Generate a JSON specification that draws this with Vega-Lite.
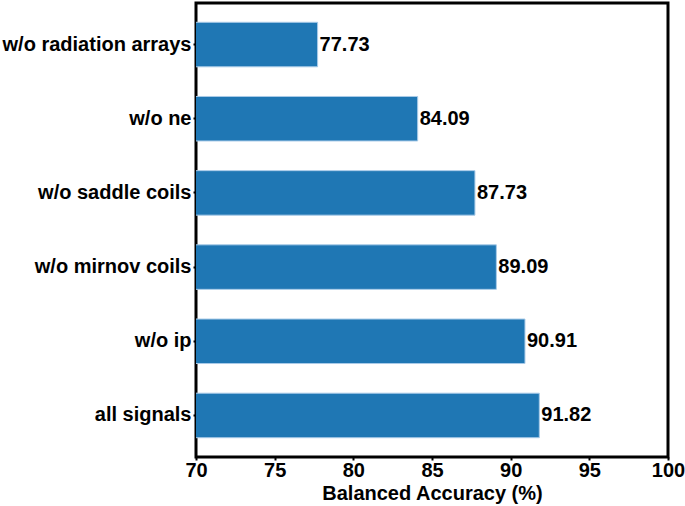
{
  "$schema": "https://vega.github.io/schema/vega-lite/v6.json",
  "autosize": {"type": "none"},
  "width": 472,
  "height": 454,
  "padding": {"left": 196, "top": 3, "right": 17, "bottom": 49},
  "background": "white",
  "config": {
    "view": {"stroke": "black", "strokeWidth": 3},
    "font": "Liberation Sans"
  },
  "data": {
    "values": [
      {"config": "w/o radiation arrays", "acc": 77.73},
      {"config": "w/o ne", "acc": 84.09},
      {"config": "w/o saddle coils", "acc": 87.73},
      {"config": "w/o mirnov coils", "acc": 89.09},
      {"config": "w/o ip", "acc": 90.91},
      {"config": "all signals", "acc": 91.82}
    ]
  },
  "encoding": {
    "y": {
      "field": "config",
      "type": "nominal",
      "sort": null,
      "scale": {"paddingInner": 0.4, "paddingOuter": 0.26},
      "axis": {
        "title": null,
        "labelFont": "Liberation Sans",
        "labelFontWeight": "bold",
        "labelFontSize": 20,
        "labelColor": "black",
        "labelPadding": 2,
        "tickColor": "black",
        "tickSize": 3,
        "tickWidth": 2,
        "domain": false,
        "labelLimit": 300
      }
    },
    "x": {
      "field": "acc",
      "type": "quantitative",
      "scale": {"domain": [70, 100], "nice": false, "zero": false},
      "axis": {
        "title": "Balanced Accuracy (%)",
        "titleFont": "Liberation Sans",
        "titleFontWeight": "bold",
        "titleFontSize": 20,
        "titleColor": "black",
        "titlePadding": 3,
        "values": [70, 75, 80, 85, 90, 95, 100],
        "labelFont": "Liberation Sans",
        "labelFontWeight": "bold",
        "labelFontSize": 20,
        "labelColor": "black",
        "labelPadding": 0,
        "labelFlush": false,
        "tickColor": "black",
        "tickSize": 3,
        "tickWidth": 2,
        "domain": false,
        "grid": false
      }
    }
  },
  "layer": [
    {
      "mark": {"type": "bar", "color": "#1f77b4", "stroke": "#a9cbe8", "strokeWidth": 1, "clip": true}
    },
    {
      "mark": {"type": "text", "align": "left", "baseline": "middle", "dx": 2, "font": "Liberation Sans", "fontWeight": "bold", "fontSize": 20, "color": "black"},
      "encoding": {
        "text": {"field": "acc", "type": "quantitative", "format": ".2f"}
      }
    }
  ]
}
